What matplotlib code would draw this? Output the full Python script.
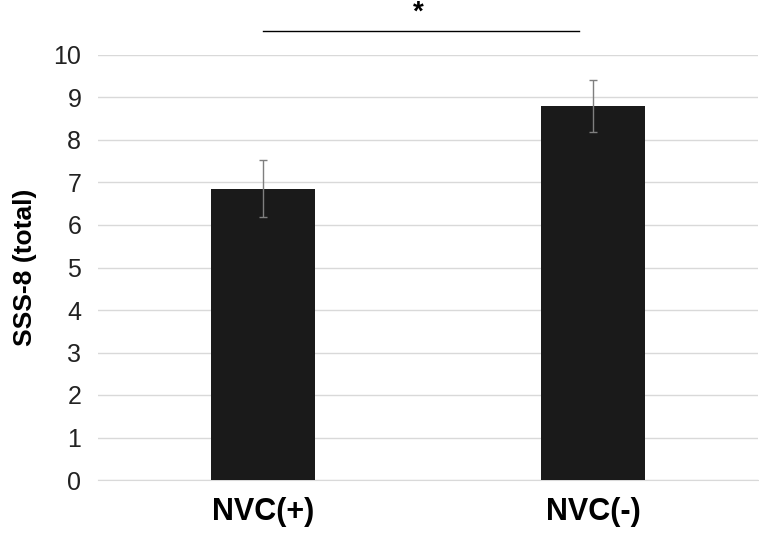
import matplotlib
matplotlib.use("Agg")
import matplotlib.pyplot as plt
plt.rcParams["font.family"] = "Liberation Sans"

categories = ["NVC(+)", "NVC(-)"]
means = [6.85, 8.8]
errors = [0.67, 0.62]
yticks = list(range(0, 11))

fig = plt.figure(figsize=(7.59, 5.38), dpi=100)
ax = fig.add_axes([98/759, 1-480/538, 660/759, 425/538])
x = [0, 1]
ax.bar(x, means, width=0.315, color="#1a1a1a", zorder=3)
ax.errorbar(x, means, yerr=errors, fmt="none", ecolor="#7f7f7f", elinewidth=1, capsize=3, zorder=4)
ax.set_xlim(-0.5, 1.5)
ax.set_ylim(0, 10)
ax.set_yticks(yticks)
ax.tick_params(axis="y", length=0, labelsize=18, colors="#222222", pad=12)
ax.tick_params(axis="x", length=0, pad=12)
ax.set_xticks(x)
ax.set_xticklabels(categories, fontsize=22, fontweight="bold")
ax.grid(axis="y", color="#d9d9d9", linewidth=1, zorder=0)
for s in ["top", "right", "left"]:
    ax.spines[s].set_visible(False)
ax.spines["bottom"].set_color("#d9d9d9")
ax.set_ylabel("SSS-8 (total)", fontsize=19, fontweight="bold", labelpad=12)
ax.plot([0, 0.957], [10.57, 10.57], color="black", linewidth=1, clip_on=False)
ax.text(0.47, 10.68, "*", ha="center", va="bottom", fontsize=20, fontweight="bold", clip_on=False)
fig.savefig("out.png", dpi=100)
